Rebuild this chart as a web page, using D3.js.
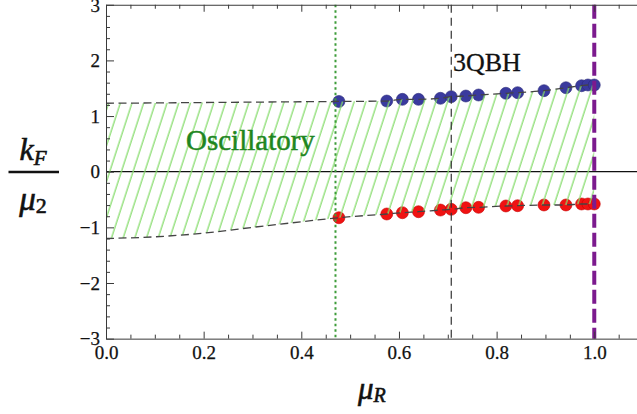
<!DOCTYPE html>
<html>
<head>
<meta charset="utf-8">
<script src="https://cdn.jsdelivr.net/npm/d3@7"></script>
<style>
  html, body { margin: 0; padding: 0; background: #fff; }
  svg { display: block; }
  text { font-family: "Liberation Serif", "Times New Roman", "DejaVu Serif", serif; }
</style>
</head>
<body>
<svg id="chart" width="637" height="414"></svg>
<script>
// Measured band edges: mu_R and k_F/mu_2 of the upper (blue) and lower (red) branches
const muPts   = [0.477, 0.575, 0.607, 0.640, 0.685, 0.707, 0.737, 0.763, 0.819, 0.843, 0.897, 0.942, 0.974, 0.987, 1.000];
const kUpper  = [1.262, 1.270, 1.300, 1.300, 1.319, 1.348, 1.360, 1.378, 1.409, 1.420, 1.456, 1.509, 1.545, 1.558, 1.558];
const kLower  = [-0.827, -0.760, -0.737, -0.719, -0.689, -0.676, -0.647, -0.640, -0.616, -0.611, -0.598, -0.598, -0.580, -0.580, -0.580];

// Analytic part of the boundary below the first data point
const boundMu  = [0.0, 0.1, 0.2, 0.3, 0.4];
const boundUp  = [1.230, 1.236, 1.243, 1.250, 1.257];
const boundLow = [-1.200, -1.170, -1.105, -1.000, -0.900];

// Reference lines
const muOnset = 0.47;            // green dotted
const mu3QBH  = Math.SQRT1_2;    // black dashed, labelled 3QBH
const muEdge  = 1.0;             // purple dashed

// Axis ticks
const xTicks = [0.0, 0.2, 0.4, 0.6, 0.8, 1.0];
const yTicks = [-3, -2, -1, 0, 1, 2, 3];

const svg = d3.select("#chart");

const x = d3.scaleLinear().domain([0, 1.1]).range([106, 643.1]);
const y = d3.scaleLinear().domain([-3, 3]).range([338.65, 4.75]);

const x0 = x.range()[0], yTop = y(3), yBot = y(-3);
const serif = "'Liberation Serif', 'Times New Roman', 'DejaVu Serif', serif";

// Hatch pattern for the oscillatory region
const defs = svg.append("defs");
const pat = defs.append("pattern")
  .attr("id", "hatch")
  .attr("patternUnits", "userSpaceOnUse")
  .attr("width", 11.1).attr("height", 20)
  .attr("patternTransform", "rotate(18)");
pat.append("line")
  .attr("x1", 2).attr("y1", -1).attr("x2", 2).attr("y2", 21)
  .attr("stroke", "#86dc6c").attr("stroke-width", 1.25);

// Combined edge arrays
const edgeMu  = boundMu.concat(muPts);
const edgeUp  = boundUp.concat(kUpper);
const edgeLow = boundLow.concat(kLower);
const edge = edgeMu.map((m, i) => ({ m, up: edgeUp[i], lo: edgeLow[i] }));

// Zero line
svg.append("line")
  .attr("x1", x0).attr("x2", 637)
  .attr("y1", y(0)).attr("y2", y(0))
  .attr("stroke", "#111").attr("stroke-width", 1.3);

// Data points
svg.append("g").selectAll("circle").data(muPts).join("circle")
  .attr("cx", d => x(d))
  .attr("cy", (d, i) => y(kUpper[i]))
  .attr("r", 6)
  .attr("fill", "#3a3a9e")
  .attr("stroke", "#2a2a7a").attr("stroke-width", 0.6);

svg.append("g").selectAll("circle").data(muPts).join("circle")
  .attr("cx", d => x(d))
  .attr("cy", (d, i) => y(kLower[i]))
  .attr("r", 6)
  .attr("fill", "#f01212")
  .attr("stroke", "#c80000").attr("stroke-width", 0.6);

// Hatched region between the two edges
const area = d3.area()
  .x(d => x(d.m))
  .y0(d => y(d.lo))
  .y1(d => y(d.up))
  .curve(d3.curveMonotoneX);
svg.append("path")
  .datum(edge)
  .attr("d", area)
  .attr("fill", "url(#hatch)");

// Vertical reference lines
svg.append("line")
  .attr("x1", x(muOnset)).attr("x2", x(muOnset))
  .attr("y1", yTop).attr("y2", yBot)
  .attr("stroke", "#3e9c3a").attr("stroke-width", 2)
  .attr("stroke-dasharray", "2.5,3");

svg.append("line")
  .attr("x1", x(mu3QBH)).attr("x2", x(mu3QBH))
  .attr("y1", yTop).attr("y2", yBot)
  .attr("stroke", "#333").attr("stroke-width", 1.2)
  .attr("stroke-dasharray", "8,5");

// Dashed edge curves
const lineUp = d3.line().x(d => x(d.m)).y(d => y(d.up)).curve(d3.curveMonotoneX);
const lineLo = d3.line().x(d => x(d.m)).y(d => y(d.lo)).curve(d3.curveMonotoneX);
[lineUp, lineLo].forEach(gen => {
  svg.append("path")
    .datum(edge)
    .attr("d", gen)
    .attr("fill", "none")
    .attr("stroke", "#444").attr("stroke-width", 1.3)
    .attr("stroke-dasharray", "8,4.5");
});

svg.append("line")
  .attr("x1", x(muEdge)).attr("x2", x(muEdge))
  .attr("y1", yTop).attr("y2", yBot)
  .attr("stroke", "#7c1a8e").attr("stroke-width", 4)
  .attr("stroke-dasharray", "14,5");

// Region labels
svg.append("text")
  .attr("x", 186).attr("y", 150)
  .attr("font-size", 29)
  .attr("fill", "#1f861f")
  .attr("stroke", "#1f861f").attr("stroke-width", 0.5)
  .text("Oscillatory");

svg.append("text")
  .attr("x", 453).attr("y", 70.5)
  .attr("font-size", 26)
  .attr("fill", "#111")
  .attr("stroke", "#111").attr("stroke-width", 0.3)
  .text("3QBH");

// Frame with inward ticks
const frameColor = "#3a3a3a";
const xMinor = d3.range(0, 1.1001, 0.05).filter(v => Math.abs(v * 5 - Math.round(v * 5)) > 1e-6);
const yMinor = d3.range(-3, 3.0001, 0.2).filter(v => Math.abs(v - Math.round(v)) > 1e-6);

function styleAxis(g) {
  g.attr("font-family", serif);
  g.selectAll("path, line").attr("stroke", frameColor).attr("stroke-width", 1);
  g.selectAll("text").attr("fill", "#111").attr("font-size", 19)
    .attr("stroke", "#111").attr("stroke-width", 0.25)
    .style("font-family", serif);
}

// bottom
const gb = svg.append("g").attr("transform", `translate(0,${yBot})`)
  .call(d3.axisBottom(x).tickValues(xTicks).tickSizeInner(-7).tickSizeOuter(0).tickFormat(d3.format(".1f")));
gb.selectAll("text").attr("y", 359 - yBot).attr("dy", null);
styleAxis(gb);
const gbm = svg.append("g").attr("transform", `translate(0,${yBot})`)
  .call(d3.axisBottom(x).tickValues(xMinor).tickSizeInner(-4).tickSizeOuter(0).tickFormat(""));
gbm.select(".domain").remove();
styleAxis(gbm);

// top
const gt = svg.append("g").attr("transform", `translate(0,${yTop})`)
  .call(d3.axisTop(x).tickValues(xTicks).tickSizeInner(-7).tickSizeOuter(0).tickFormat(""));
styleAxis(gt);
const gtm = svg.append("g").attr("transform", `translate(0,${yTop})`)
  .call(d3.axisTop(x).tickValues(xMinor).tickSizeInner(-4).tickSizeOuter(0).tickFormat(""));
gtm.select(".domain").remove();
styleAxis(gtm);

// left
const gl = svg.append("g").attr("transform", `translate(${x0},0)`)
  .call(d3.axisLeft(y).tickValues(yTicks).tickSizeInner(-8).tickSizeOuter(0).tickFormat(d3.format("d")));
gl.selectAll("text").attr("x", -6).attr("dy", "0.33em");
styleAxis(gl);
const glm = svg.append("g").attr("transform", `translate(${x0},0)`)
  .call(d3.axisLeft(y).tickValues(yMinor).tickSizeInner(-4).tickSizeOuter(0).tickFormat(""));
glm.select(".domain").remove();
styleAxis(glm);

// Axis titles
const yt = svg.append("text").attr("x", 33).attr("y", 160).attr("text-anchor", "middle")
  .attr("fill", "#111").attr("stroke", "#111").attr("stroke-width", 0.6);
yt.append("tspan").attr("font-size", 32).attr("font-style", "italic").text("k");
yt.append("tspan").attr("font-size", 21).attr("font-style", "italic").attr("dy", 5).text("F");
svg.append("line").attr("x1", 8.5).attr("x2", 59).attr("y1", 172).attr("y2", 172)
  .attr("stroke", "#111").attr("stroke-width", 2.5);
const yb = svg.append("text").attr("x", 33).attr("y", 209.5).attr("text-anchor", "middle")
  .attr("fill", "#111").attr("stroke", "#111").attr("stroke-width", 0.6);
yb.append("tspan").attr("font-size", 33).attr("font-style", "italic").text("μ");
yb.append("tspan").attr("font-size", 22).attr("dy", 3.5).text("2");

const xt = svg.append("text").attr("x", 358).attr("y", 398.5)
  .attr("fill", "#111").attr("stroke", "#111").attr("stroke-width", 0.6);
xt.append("tspan").attr("font-size", 31).attr("font-style", "italic").text("μ");
xt.append("tspan").attr("font-size", 20).attr("font-style", "italic").attr("dy", 3).text("R");
</script>
</body>
</html>
